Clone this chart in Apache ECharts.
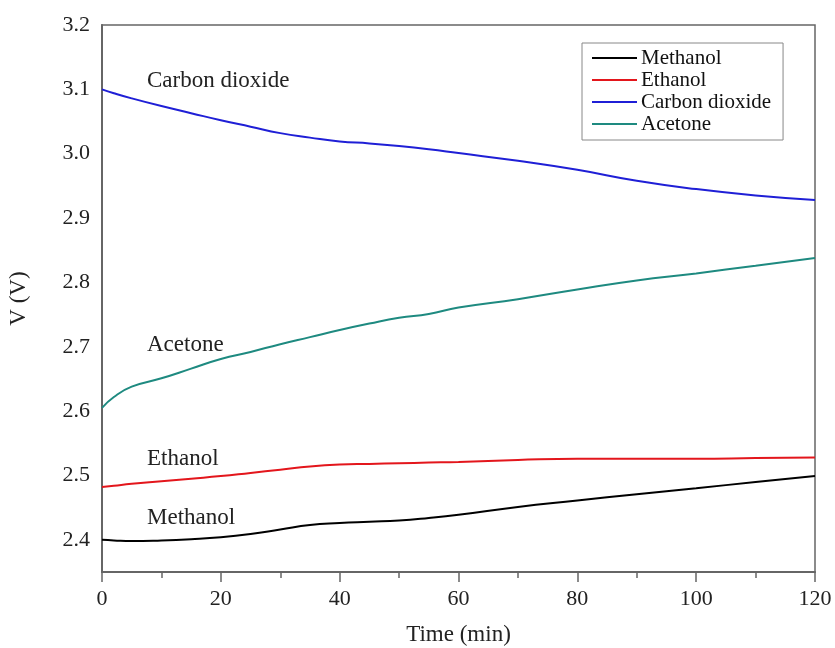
<!DOCTYPE html>
<html>
<head>
<meta charset="utf-8">
<title>V vs Time</title>
<script src="https://cdn.jsdelivr.net/npm/echarts@6.0.0/dist/echarts.min.js"></script>
<style>
  html, body { margin: 0; padding: 0; background: #fff; }
  #chart { width: 835px; height: 648px; }
</style>
</head>
<body>
<div id="chart"></div>
<script>
// 时间点 (min)
const timeMin = [0, 2, 5, 10, 15, 20, 25, 30, 35, 40, 45, 50, 55, 60, 70, 80, 90, 100, 110, 120];

// 各气体电压 (V)
const methanol = [2.400, 2.399, 2.398, 2.399, 2.401, 2.404, 2.409, 2.416, 2.423, 2.426, 2.428, 2.430, 2.434, 2.439, 2.451, 2.461, 2.471, 2.480, 2.490, 2.499];
const ethanol  = [2.482, 2.484, 2.487, 2.491, 2.495, 2.499, 2.504, 2.509, 2.514, 2.517, 2.518, 2.519, 2.520, 2.521, 2.524, 2.526, 2.526, 2.526, 2.527, 2.528];
const carbonDioxide = [3.100, 3.094, 3.086, 3.074, 3.063, 3.052, 3.042, 3.032, 3.025, 3.019, 3.016, 3.012, 3.007, 3.001, 2.989, 2.975, 2.958, 2.945, 2.935, 2.928];
const acetone  = [2.605, 2.622, 2.638, 2.651, 2.666, 2.681, 2.692, 2.704, 2.715, 2.726, 2.736, 2.745, 2.751, 2.761, 2.774, 2.789, 2.803, 2.814, 2.826, 2.838];

const seriesNames = ['Methanol', 'Ethanol', 'Carbon dioxide', 'Acetone'];
const seriesColors = ['#000000', '#e3161c', '#1f1fd6', '#1e8a80'];
const seriesValues = [methanol, ethanol, carbonDioxide, acetone];

// 曲线旁的文字标注
const annotations = [
    { text: 'Carbon dioxide', left: 147, top: 69 },
    { text: 'Acetone', left: 147, top: 333 },
    { text: 'Ethanol', left: 147, top: 447 },
    { text: 'Methanol', left: 147, top: 506 }
];

const FONT = '"Liberation Serif", "Times New Roman", serif';

function toPairs(values) {
    return timeMin.map((t, i) => [t, values[i]]);
}

const chart = echarts.init(document.getElementById('chart'));

const option = {
    backgroundColor: '#fff',
    animation: false,
    grid: {
        left: 102, right: 20, top: 25, bottom: 76,
        outerBoundsMode: 'none',
        containLabel: false,
        show: true,
        borderColor: '#666',
        borderWidth: 1.5
    },
    legend: {
        orient: 'vertical',
        left: 582,
        top: 43,
        padding: [4, 12, 5, 10],
        itemGap: 0,
        itemWidth: 45,
        itemHeight: 2,
        icon: 'rect',
        borderColor: '#888',
        borderWidth: 1,
        data: seriesNames,
        textStyle: { fontFamily: FONT, fontSize: 21, lineHeight: 22, color: '#111', padding: [0, 0, 0, -1] }
    },
    xAxis: {
        type: 'value',
        min: 0, max: 120, interval: 20,
        name: 'Time (min)',
        nameLocation: 'middle',
        nameGap: 51,
        nameTextStyle: { fontFamily: FONT, fontSize: 23, color: '#222' },
        axisLine: { lineStyle: { color: '#666', width: 2 } },
        axisTick: { inside: false, length: 10, lineStyle: { color: '#666', width: 1.5 } },
        minorTick: { show: true, splitNumber: 2, length: 6, lineStyle: { color: '#666', width: 1.5 } },
        splitLine: { show: false },
        axisLabel: { fontFamily: FONT, fontSize: 22, color: '#222', margin: 16 }
    },
    yAxis: {
        type: 'value',
        min: 2.35, max: 3.2, interval: 0.05,
        name: 'V (V)',
        nameLocation: 'middle',
        nameGap: 72,
        nameTextStyle: { fontFamily: FONT, fontSize: 23, color: '#222' },
        axisLine: { show: true, lineStyle: { color: '#666', width: 2 } },
        axisTick: { show: false },
        splitLine: { show: false },
        axisLabel: {
            fontFamily: FONT, fontSize: 22, color: '#222', margin: 12,
            formatter: function (v) {
                const k = v * 10;
                return Math.abs(k - Math.round(k)) < 1e-6 ? v.toFixed(1) : '';
            }
        }
    },
    graphic: annotations.map(a => ({
        type: 'text',
        left: a.left,
        top: a.top,
        style: { text: a.text, font: '23px ' + FONT, fill: '#222' }
    })),
    series: seriesNames.map((name, i) => ({
        name: name,
        type: 'line',
        smooth: true,
        showSymbol: false,
        data: toPairs(seriesValues[i]),
        lineStyle: { color: seriesColors[i], width: 2 },
        itemStyle: { color: seriesColors[i] }
    }))
};

chart.setOption(option);
</script>
</body>
</html>
